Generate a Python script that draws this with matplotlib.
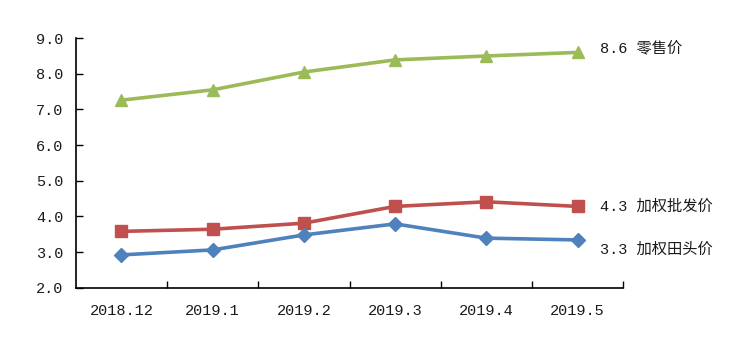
import matplotlib
matplotlib.use("Agg")
import matplotlib.pyplot as plt
import numpy as np

plt.rcParams['font.family'] = ['Liberation Mono', 'Noto Sans CJK SC']

months = ["2018.12", "2019.1", "2019.2", "2019.3", "2019.4", "2019.5"]
retail = [7.26, 7.55, 8.05, 8.39, 8.50, 8.60]
wholesale = [3.58, 3.64, 3.81, 4.28, 4.41, 4.28]
farmgate = [2.92, 3.06, 3.48, 3.79, 3.39, 3.34]

series = [
    ("零售价", retail, "#9BBB59", "^", 9, 0.12),
    ("加权批发价", wholesale, "#C0504D", "s", 8.5, 0.0),
    ("加权田头价", farmgate, "#4F81BD", "D", 7, -0.26),
]

fig = plt.figure(figsize=(7.5, 3.5), dpi=100)
ax = fig.add_axes([0.101, 0.178, 0.730, 0.713])

x = np.arange(len(months))
for name, vals, color, marker, ms, dy in series:
    ax.plot(x, vals, color=color, lw=2.6, marker=marker, ms=ms,
            solid_joinstyle='round', zorder=3)
    ax.text(x[-1] + 0.25, vals[-1] + dy, f"{vals[-1]:.1f} {name}",
            fontsize=11, va='center', ha='left', color='#1a1a1a')

ax.set_xlim(-0.5, len(months) - 0.5)
ax.set_ylim(2.0, 9.0)
ax.set_yticks(np.arange(2.0, 9.01, 1.0))
ax.set_yticklabels([f"{v:.1f}" for v in np.arange(2.0, 9.01, 1.0)])
ax.set_xticks(x)
ax.set_xticklabels(months)
ax.set_xticks(np.arange(0.5, len(months) - 0.5 + 0.01, 1.0), minor=True)

ax.tick_params(axis='x', which='major', length=0, pad=12, labelsize=11,
               labelcolor='#1a1a1a')
ax.tick_params(axis='x', which='minor', direction='in', length=5, width=1)
ax.tick_params(axis='y', direction='in', length=5, width=1, pad=9,
               labelsize=11, labelcolor='#1a1a1a')

for side in ['top', 'right']:
    ax.spines[side].set_visible(False)
for side in ['left', 'bottom']:
    ax.spines[side].set_linewidth(1.2)

fig.savefig("out.png", dpi=100)
